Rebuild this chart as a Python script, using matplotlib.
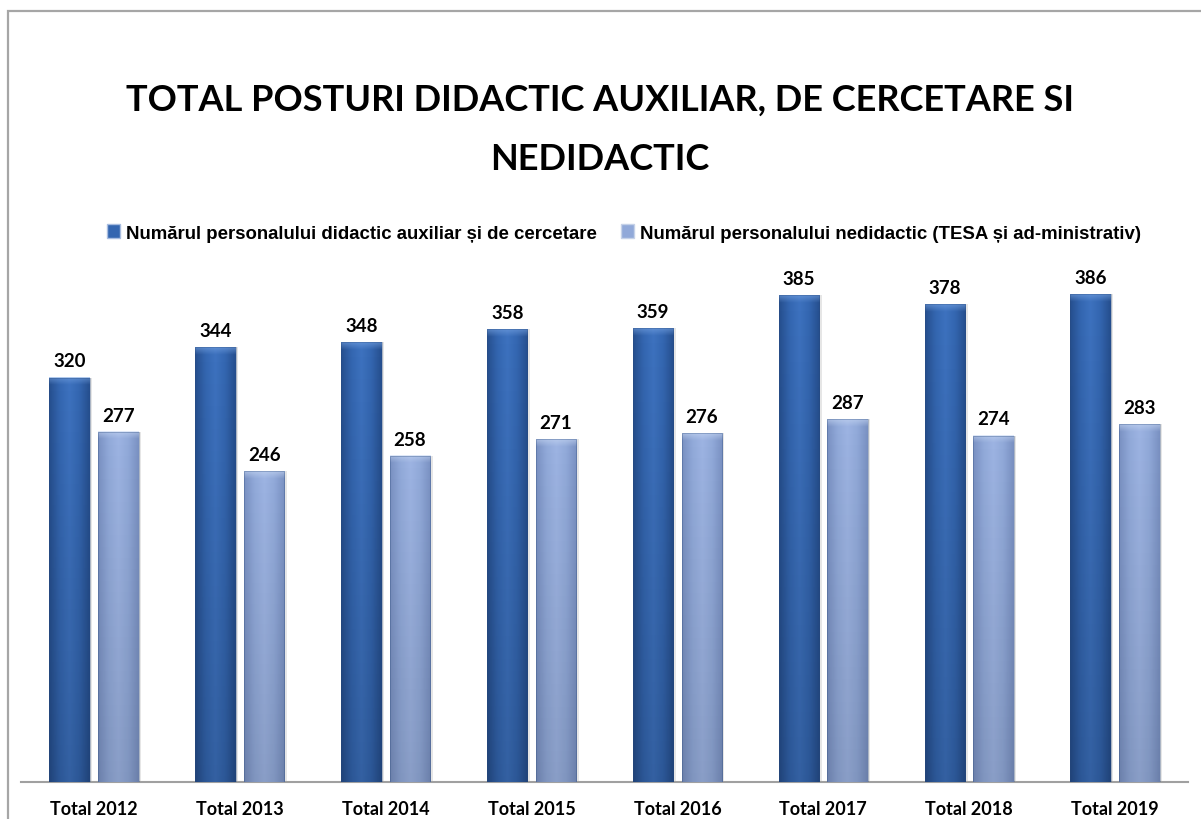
import numpy as np
import matplotlib
matplotlib.use("Agg")
import matplotlib.pyplot as plt
from matplotlib.patches import Patch, Rectangle
from matplotlib.colors import LinearSegmentedColormap

categories = ["Total 2012", "Total 2013", "Total 2014", "Total 2015",
              "Total 2016", "Total 2017", "Total 2018", "Total 2019"]
didactic_auxiliar = [320, 344, 348, 358, 359, 385, 378, 386]
nedidactic = [277, 246, 258, 271, 276, 287, 274, 283]
series_names = ["Numărul personalului didactic auxiliar și de cercetare",
                "Numărul personalului nedidactic (TESA și ad-ministrativ)"]
title = "TOTAL POSTURI DIDACTIC AUXILIAR, DE CERCETARE SI\nNEDIDACTIC"

W, H = 1201, 820
fig = plt.figure(figsize=(W / 100, H / 100), dpi=100)
fig.patch.set_facecolor("white")

# chart border (partly outside the picture, like the source screenshot)
fig.patches.append(Rectangle((8 / W, -0.05), 1.2, (H - 12) / H + 0.05, transform=fig.transFigure,
                             fill=False, edgecolor="#A6A6A6", linewidth=1.6, zorder=0))

ax = fig.add_axes([21 / W, 37 / H, (1188 - 21) / W, 505.6 / H])

x = np.arange(len(categories))
bw = 0.277
off = 0.167

dark_cmap = LinearSegmentedColormap.from_list("d", ["#264f8e", "#3466b0", "#3d72bf", "#3466b0", "#264f8e"])
light_cmap = LinearSegmentedColormap.from_list("l", ["#7a91c2", "#91a9d9", "#9db4e2", "#91a9d9", "#7a91c2"])


def gradient_bars(xpos, vals, cmap, top_col, bottom_fade):
    bars = ax.bar(xpos, vals, width=bw, color="none", edgecolor="none", zorder=3)
    grad = np.tile(np.linspace(0, 1, 64), (64, 1))
    for b in bars:
        bx, by, bwid, bh = b.get_x(), b.get_y(), b.get_width(), b.get_height()
        # shadow
        ax.bar(bx + bwid / 2 + 0.012, bh, width=bwid + 0.01, color="#cfcfcf", alpha=0.5,
               edgecolor="none", zorder=2)
        im = ax.imshow(grad, cmap=cmap, extent=[bx, bx + bwid, by, by + bh],
                       aspect="auto", zorder=3, interpolation="bicubic")
        im.set_clip_path(b)
        # vertical shading: darker towards the bottom
        vert = np.zeros((64, 2, 4))
        vert[..., 3] = np.linspace(bottom_fade, 0.0, 64)[:, None]
        ax.imshow(vert, extent=[bx, bx + bwid, by, by + bh], aspect="auto", zorder=4,
                  origin="lower", interpolation="bilinear")
        # soft top bevel
        bev = np.ones((16, 2, 4))
        bev[..., :3] = matplotlib.colors.to_rgb(top_col)
        bev[..., 3] = np.linspace(0.0, 0.6, 16)[:, None]
        ax.imshow(bev, extent=[bx, bx + bwid, by + bh - 6, by + bh], aspect="auto", zorder=5,
                  origin="lower", interpolation="bilinear")
        ax.add_patch(Rectangle((bx, by), bwid, bh, fill=False, edgecolor="#2a4a7a",
                               linewidth=0.5, alpha=0.45, zorder=6))
    return bars


b1 = gradient_bars(x - off, didactic_auxiliar, dark_cmap, "#76a3e2", 0.15)
b2 = gradient_bars(x + off, nedidactic, light_cmap, "#c6d6f2", 0.12)

label_font = dict(family=["Lato", "DejaVu Sans"], fontweight="bold", fontsize=13.5, color="black")
for bars, vals in [(b1, didactic_auxiliar), (b2, nedidactic)]:
    for b, v in zip(bars, vals):
        ax.annotate(str(v), (b.get_x() + b.get_width() / 2, v), xytext=(0, 6),
                    textcoords="offset points", ha="center", va="bottom", **label_font)

ax.set_xlim(-0.5, len(categories) - 0.5)
ax.set_ylim(0, 400)
ax.set_xticks(x)
ax.set_xticklabels(categories, fontsize=13, fontweight="bold", family=["Lato", "DejaVu Sans"])
ax.tick_params(axis="x", length=0, pad=13)
ax.set_yticks([])
for s in ["top", "right", "left"]:
    ax.spines[s].set_visible(False)
ax.spines["bottom"].set_color("#A0A0A0")
ax.spines["bottom"].set_linewidth(1.5)
ax.set_facecolor("none")

fig.text(600 / W, 1 - 130 / H, title, ha="center", va="center", fontsize=26,
         fontweight="bold", family=["Lato", "DejaVu Sans"], linespacing=1.95)

handles = [Patch(facecolor="#3466b0", edgecolor="#a9bde0"),
           Patch(facecolor="#91a9d9", edgecolor="#c6d2e8")]
fig.legend(handles, series_names, loc="center", bbox_to_anchor=(624 / W, 1 - 234 / H), ncol=2,
           frameon=False, handlelength=0.7, handleheight=0.7, handletextpad=0.3,
           columnspacing=1.3, prop=dict(family=["Liberation Sans", "DejaVu Sans"],
                                         weight="bold", size=13.4))

fig.savefig("out.png", dpi=100)
